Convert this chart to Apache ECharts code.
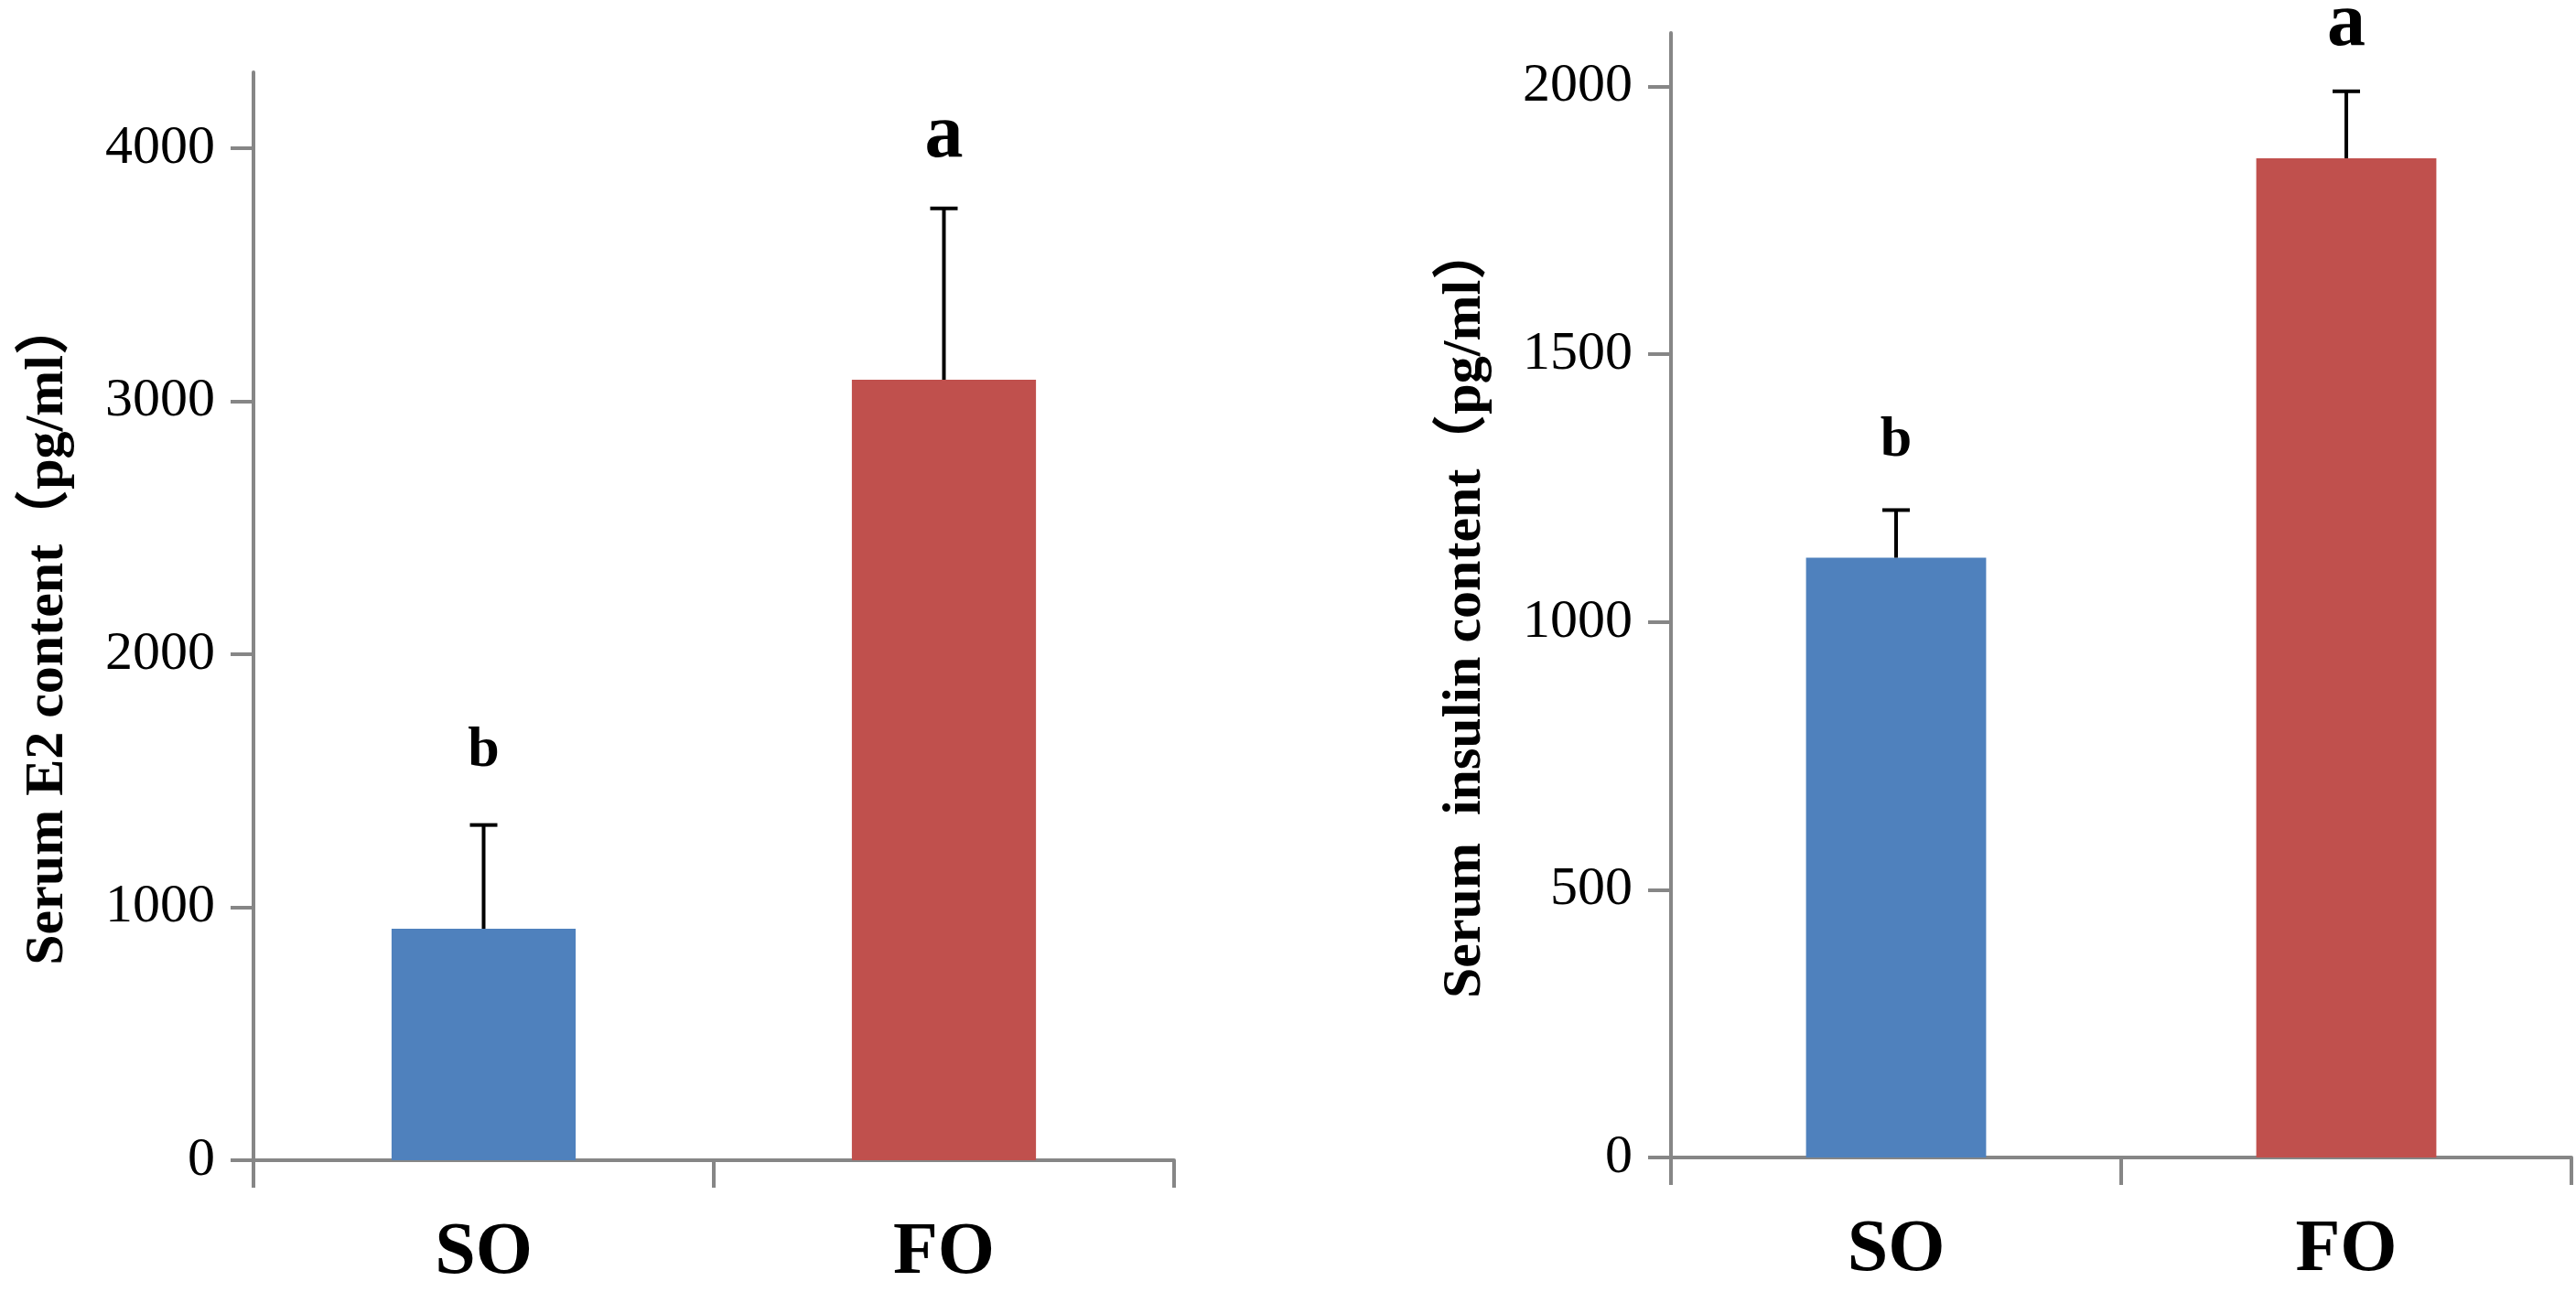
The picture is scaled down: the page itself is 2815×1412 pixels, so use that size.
<!DOCTYPE html>
<html>
<head>
<meta charset="utf-8">
<title>Serum E2 and insulin</title>
<script src="https://cdn.jsdelivr.net/npm/echarts@6/dist/echarts.min.js"></script>
<style>
  html, body { margin: 0; padding: 0; background: #fff; }
  #chart { width: 2815px; height: 1412px; }
</style>
</head>
<body>
<div id="chart"></div>
<script>
// groups on the x axis
var groups = ['SO', 'FO'];

// left panel: serum E2 (pg/ml)
var e2Mean = [915, 3085];
var e2Upper = [1325, 3762];
var e2Letters = ['b', 'a'];
var e2Ticks = [0, 1000, 2000, 3000, 4000];

// right panel: serum insulin (pg/ml)
var insulinMean = [1120, 1866];
var insulinUpper = [1209, 1991];
var insulinLetters = ['b', 'a'];
var insulinTicks = [0, 500, 1000, 1500, 2000];

var barColors = ['#4F81BD', '#C0504D'];
var axisGray = '#868686';
var serif = "'Liberation Serif', 'Times New Roman', 'Noto Sans CJK SC', serif";

function xAxisFor(gridIndex) {
    return {
        type: 'category',
        gridIndex: gridIndex,
        data: groups,
        boundaryGap: true,
        axisLine: { show: true, lineStyle: { color: axisGray, width: 4 } },
        axisTick: { show: true, interval: 0, alignWithLabel: false, length: 30, lineStyle: { color: axisGray, width: 4 } },
        axisLabel: {
            margin: 62,
            color: '#000',
            fontFamily: serif,
            fontWeight: 'bold',
            fontSize: 80
        }
    };
}

function yAxisFor(gridIndex, max, interval, ticks, name) {
    return {
        type: 'value',
        gridIndex: gridIndex,
        min: 0,
        max: max,
        interval: interval,
        name: name,
        nameLocation: 'middle',
        nameRotate: 90,
        nameGap: 195,
        nameTextStyle: {
            color: '#000',
            fontFamily: serif,
            fontWeight: 'bold',
            fontSize: 60,
            padding: [0, 36, 0, 0]
        },
        splitLine: { show: false },
        axisLine: { show: true, lineStyle: { color: axisGray, width: 4 } },
        axisTick: { show: true, length: 25, customValues: ticks, lineStyle: { color: axisGray, width: 4 } },
        axisLabel: {
            customValues: ticks,
            formatter: function (v) { return String(v); },
            margin: 42,
            color: '#000',
            fontFamily: serif,
            fontSize: 60
        }
    };
}

function barSeries(axisIndex, means) {
    return {
        type: 'bar',
        xAxisIndex: axisIndex,
        yAxisIndex: axisIndex,
        barWidth: '40%',
        data: means.map(function (v, i) {
            return { value: v, itemStyle: { color: barColors[i] } };
        })
    };
}

// error bar (upper half only) with the significance letter above it
function errorSeries(axisIndex, means, uppers, letters, gap) {
    return {
        type: 'custom',
        xAxisIndex: axisIndex,
        yAxisIndex: axisIndex,
        z: 5,
        data: means.map(function (v, i) { return [i, v, uppers[i]]; }),
        renderItem: function (params, api) {
            var base = api.coord([api.value(0), api.value(1)]);
            var top = api.coord([api.value(0), api.value(2)]);
            var letter = letters[params.dataIndex];
            var big = letter === 'a';
            var line = { stroke: '#000', lineWidth: 4 };
            return {
                type: 'group',
                children: [
                    { type: 'line', shape: { x1: base[0], y1: base[1], x2: top[0], y2: top[1] }, style: line },
                    { type: 'line', shape: { x1: top[0] - 15, y1: top[1], x2: top[0] + 15, y2: top[1] }, style: line },
                    {
                        type: 'text',
                        x: top[0],
                        y: top[1] - gap + (big ? 14 : 0),
                        style: {
                            text: letter,
                            fill: '#000',
                            font: 'bold ' + (big ? 84 : 62) + 'px ' + serif,
                            align: 'center',
                            verticalAlign: 'bottom'
                        }
                    }
                ]
            };
        }
    };
}

var myChart = echarts.init(document.getElementById('chart'));
myChart.setOption({
    backgroundColor: '#fff',
    animation: false,
    grid: [
        { left: 277, top: 79, width: 1006, height: 1189 },
        { left: 1826, top: 36, width: 984, height: 1229 }
    ],
    xAxis: [xAxisFor(0), xAxisFor(1)],
    yAxis: [
        yAxisFor(0, 4300, 1000, e2Ticks, 'Serum E2 content（pg/ml）'),
        yAxisFor(1, 2100, 500, insulinTicks, 'Serum  insulin content（pg/ml）')
    ],
    series: [
        barSeries(0, e2Mean),
        barSeries(1, insulinMean),
        errorSeries(0, e2Mean, e2Upper, e2Letters, 50),
        errorSeries(1, insulinMean, insulinUpper, insulinLetters, 44)
    ]
});
</script>
</body>
</html>
